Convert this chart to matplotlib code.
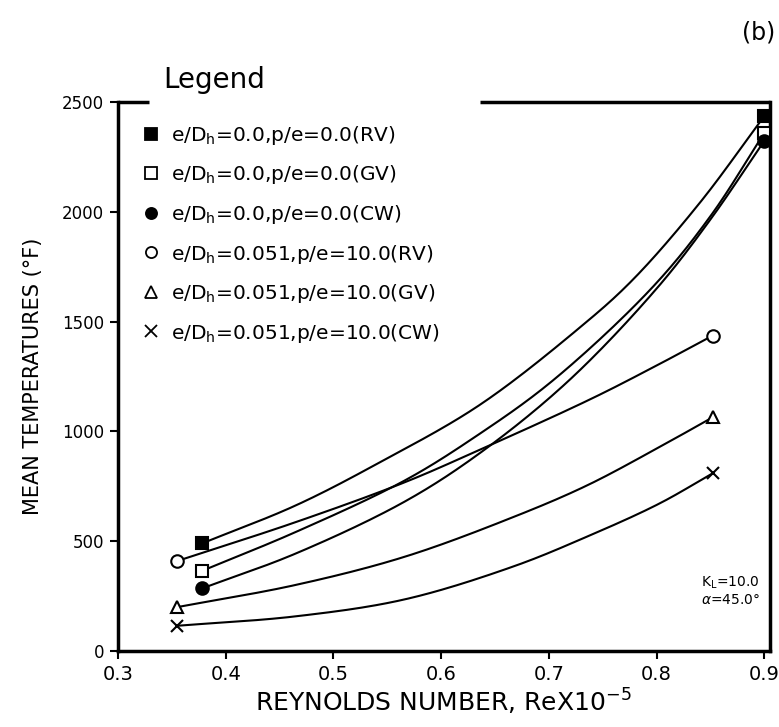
import numpy as np
import matplotlib
matplotlib.use("Agg")
import matplotlib.pyplot as plt
from matplotlib.lines import Line2D

# ---- data ----
labels = [r'e/D$_\mathregular{h}$=0.0,p/e=0.0(RV)',
          r'e/D$_\mathregular{h}$=0.0,p/e=0.0(GV)',
          r'e/D$_\mathregular{h}$=0.0,p/e=0.0(CW)',
          r'e/D$_\mathregular{h}$=0.051,p/e=10.0(RV)',
          r'e/D$_\mathregular{h}$=0.051,p/e=10.0(GV)',
          r'e/D$_\mathregular{h}$=0.051,p/e=10.0(CW)']

# measured points (markers)
pt_x = [[0.378, 0.900], [0.378, 0.900], [0.378, 0.900],
        [0.355, 0.852], [0.355, 0.852], [0.355, 0.852]]
pt_y = [[490, 2436], [365, 2359], [285, 2323],
        [410, 1436], [200, 1064], [115, 809]]

# fitted curves
s1_x = [0.378, 0.465, 0.543, 0.635, 0.728, 0.777, 0.840, 0.900]
s1_y = [490, 663, 859, 1118, 1470, 1686, 2040, 2436]
s2_x = [0.378, 0.465, 0.566, 0.633, 0.703, 0.795, 0.850, 0.900]
s2_y = [365, 542, 776, 980, 1229, 1650, 1980, 2359]
s3_x = [0.378, 0.465, 0.566, 0.637, 0.718, 0.800, 0.850, 0.900]
s3_y = [285, 444, 680, 905, 1229, 1650, 1965, 2323]
s4_x = [0.355, 0.465, 0.566, 0.637, 0.740, 0.800, 0.852]
s4_y = [410, 587, 768, 919, 1150, 1300, 1436]
s5_x = [0.355, 0.465, 0.566, 0.667, 0.735, 0.802, 0.852]
s5_y = [200, 301, 429, 610, 753, 927, 1064]
s6_x = [0.355, 0.465, 0.566, 0.667, 0.735, 0.802, 0.852]
s6_y = [115, 158, 235, 385, 520, 670, 809]
curves_x = [s1_x, s2_x, s3_x, s4_x, s5_x, s6_x]
curves_y = [s1_y, s2_y, s3_y, s4_y, s5_y, s6_y]

xticks = [0.3, 0.4, 0.5, 0.6, 0.7, 0.8, 0.9]
yticks = [0, 500, 1000, 1500, 2000, 2500]

XMIN, XMAX, YMIN, YMAX = 0.3, 0.905, 0, 2500

# marker styles
mk = ['s', 's', 'o', 'o', '^', 'x']
mfc = ['black', 'white', 'black', 'white', 'white', 'black']


def smooth(x, y, n=30):
    """Centripetal Catmull-Rom rendering through the read points (in axes-normalised space)."""
    sx = (XMAX - XMIN); sy = (YMAX - YMIN)
    P = np.column_stack([(np.asarray(x, float) - XMIN) / sx, (np.asarray(y, float) - YMIN) / sy])
    P = np.vstack([2 * P[0] - P[1], P, 2 * P[-1] - P[-2]])
    out = []
    for i in range(1, len(P) - 2):
        p0, p1, p2, p3 = P[i - 1], P[i], P[i + 1], P[i + 2]
        t0 = 0.0
        t1 = t0 + np.linalg.norm(p1 - p0) ** 0.5
        t2 = t1 + np.linalg.norm(p2 - p1) ** 0.5
        t3 = t2 + np.linalg.norm(p3 - p2) ** 0.5
        t = np.linspace(t1, t2, n, endpoint=False)[:, None]
        A1 = (t1 - t) / (t1 - t0) * p0 + (t - t0) / (t1 - t0) * p1
        A2 = (t2 - t) / (t2 - t1) * p1 + (t - t1) / (t2 - t1) * p2
        A3 = (t3 - t) / (t3 - t2) * p2 + (t - t2) / (t3 - t2) * p3
        B1 = (t2 - t) / (t2 - t0) * A1 + (t - t0) / (t2 - t0) * A2
        B2 = (t3 - t) / (t3 - t1) * A2 + (t - t1) / (t3 - t1) * A3
        C = (t2 - t) / (t2 - t1) * B1 + (t - t1) / (t2 - t1) * B2
        out.append(C)
    out.append(P[-2][None, :])
    out = np.vstack(out)
    return out[:, 0] * sx + XMIN, out[:, 1] * sy + YMIN


plt.rcParams['font.family'] = ['DejaVu Sans']
fig = plt.figure(figsize=(7.79, 7.27), dpi=100)
ax = fig.add_axes([0.1515, 0.1045, 0.988 - 0.1515, 0.8597 - 0.1045])

for i in range(6):
    cx, cy = smooth(curves_x[i], curves_y[i])
    ax.plot(cx, cy, color='black', lw=1.5, zorder=2)
    ax.plot(pt_x[i], pt_y[i], linestyle='none', marker=mk[i], markersize=9,
            markerfacecolor=mfc[i], markeredgecolor='black', markeredgewidth=1.5,
            zorder=3, clip_on=False)

ax.set_xlim(XMIN, XMAX)
ax.set_ylim(YMIN, YMAX)
ax.set_xticks(xticks)
ax.set_xticklabels([f'{v:.1f}' for v in xticks], fontsize=14)
ax.set_yticks(yticks)
ax.set_yticklabels([str(v) for v in yticks], fontsize=12)
ax.tick_params(direction='out', length=6, width=1.5, pad=4)

for s in ['left', 'right', 'bottom']:
    ax.spines[s].set_linewidth(2.5)
ax.spines['top'].set_visible(False)
# top spine interrupted by the legend title
ax.plot([0.0, 0.048], [1, 1], transform=ax.transAxes, color='black', lw=2.5,
        clip_on=False, solid_capstyle='butt')
ax.plot([0.555, 1.0], [1, 1], transform=ax.transAxes, color='black', lw=2.5,
        clip_on=False, solid_capstyle='butt')

ax.set_xlabel(r'REYNOLDS NUMBER, ReX10$^{\mathregular{-5}}$', fontsize=18, labelpad=2)
ax.set_ylabel('MEAN TEMPERATURES (°F)', fontsize=15, labelpad=14)

handles = [Line2D([], [], linestyle='none', marker=mk[i], markersize=8,
                  markerfacecolor=mfc[i], markeredgecolor='black', markeredgewidth=1.3)
           for i in range(6)]
leg = ax.legend(handles, labels, loc='upper left', bbox_to_anchor=(0.038, 0.96),
                frameon=False, fontsize=14.5, handlelength=0.8, handletextpad=0.6,
                labelspacing=0.82, borderaxespad=0.0, borderpad=0.0)

ax.text(0.07, 1.04, 'Legend', transform=ax.transAxes, fontsize=20, ha='left', va='center')

ax.text(0.895, 0.124, r'K$_\mathregular{L}$=10.0', transform=ax.transAxes, fontsize=10,
        ha='left', va='center')
ax.text(0.895, 0.093, r'$\alpha$=45.0°', transform=ax.transAxes, fontsize=10,
        ha='left', va='center')

fig.text(0.995, 0.955, '(b)', fontsize=17, ha='right', va='center')

fig.savefig('out.png', dpi=100)
